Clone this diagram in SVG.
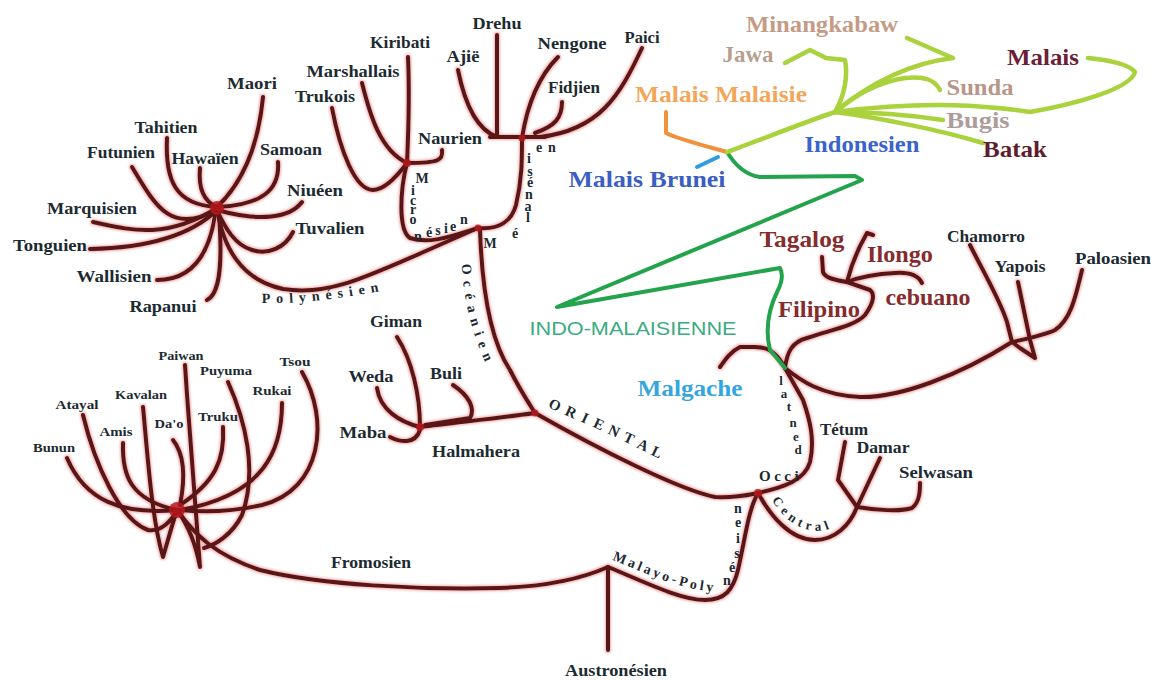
<svg xmlns="http://www.w3.org/2000/svg" width="1155" height="680" viewBox="0 0 1155 680">
<defs>
<style>
.br{fill:none;stroke:#581519;stroke-width:4;stroke-linecap:round;stroke-linejoin:round}
.lime{fill:none;stroke:#a9d23c;stroke-width:4.5;stroke-linecap:round;stroke-linejoin:round}
.dg{fill:none;stroke:#23a34b;stroke-width:4;stroke-linecap:round;stroke-linejoin:round}
.or{fill:none;stroke:#f0923c;stroke-width:4;stroke-linecap:round;stroke-linejoin:round}
.bl{fill:none;stroke:#2f9de0;stroke-width:4;stroke-linecap:round}
text{font-family:"Liberation Serif","Times New Roman",serif;font-weight:bold}
.lb{font-size:17px;fill:#1c2a31;text-anchor:middle}
.fs{font-size:13.5px;fill:#1c2a31;text-anchor:middle}
.cl{font-size:23px;text-anchor:middle}
.bt{font-size:14px;fill:#1c2a31}
.ol{font-size:15px;fill:#1c2a31;text-anchor:middle}
.mr{fill:#852c2e}
.tan{fill:#c49c86}
.hub{fill:#b5161c;opacity:.85}
</style>
<filter id="halo" x="-5%" y="-5%" width="110%" height="110%">
<feMorphology in="SourceAlpha" operator="dilate" radius="1.3" result="d"/>
<feFlood flood-color="#e05a5a" flood-opacity="0.5"/>
<feComposite in2="d" operator="in" result="h"/>
<feGaussianBlur in="h" stdDeviation="0.8" result="hb"/>
<feMerge><feMergeNode in="hb"/><feMergeNode in="SourceGraphic"/></feMerge>
</filter>
<path id="pPoly" d="M262,303 C300,304 345,298 392,289"/>
<path id="pOcea" d="M462,264 C463,300 472,337 492,376"/>
<path id="pCent" d="M772,500 C785,522 805,534 825,530 C835,528 841,522 846,514"/>
<path id="pMaPo" d="M612,560 C640,570 680,592 724,592"/>
</defs>
<rect width="1155" height="680" fill="#ffffff"/>

<g id="connectors">
<g id="maroon" filter="url(#halo)">
<!-- Polynesian -->
<path class="br" d="M263,97 C258,150 240,185 217,207"/>
<path class="br" d="M167,138 C165,180 175,205 217,207"/>
<path class="br" d="M132,167 C155,205 170,235 217,210"/>
<path class="br" d="M200,168 C198,190 205,202 217,207"/>
<path class="br" d="M278,162 C280,190 262,205 217,207"/>
<path class="br" d="M302,202 C290,218 260,222 217,210"/>
<path class="br" d="M293,232 C285,248 268,255 252,250 C235,245 225,228 217,210"/>
<path class="br" d="M93,222 C130,230 165,240 217,208"/>
<path class="br" d="M90,249 C140,248 188,238 217,210"/>
<path class="br" d="M157,280 C187,280 208,262 215,215"/>
<path class="br" d="M207,300 C219,294 223,268 219,215"/>
<path class="br" d="M217,207 C222,245 240,280 283,289 C333,297 370,275 478,228"/>
<!-- Micronesian -->
<path class="br" d="M408,57 C410,100 408,140 407,163"/>
<path class="br" d="M362,83 C370,115 380,150 407,163"/>
<path class="br" d="M332,108 C340,150 355,190 373,190 C385,190 398,175 407,163"/>
<path class="br" d="M442,150 C443,160 440,163 407,163"/>
<path class="br" d="M407,163 C400,190 398,230 410,238 C430,245 455,235 478,228"/>
<!-- Melanesian -->
<path class="br" d="M458,70 C465,105 478,130 497,137"/>
<path class="br" d="M497,35 L497,137"/>
<path class="br" d="M490,137 L545,137"/>
<path class="br" d="M558,57 C540,75 528,100 522,138"/>
<path class="br" d="M562,102 C562,118 555,126 535,133"/>
<path class="br" d="M642,48 C620,95 600,130 540,137"/>
<path class="br" d="M478,228 C500,230 512,220 516,205 C522,180 522,160 522,138"/>
<!-- Oceanic -->
<path class="br" d="M480,230 C482,290 490,340 510,370 C520,390 530,405 535,413"/>
<!-- Halmahera -->
<path class="br" d="M535,413 C500,418 460,422 420,427"/>
<path class="br" d="M453,385 C468,395 476,408 470,418 L425,425"/>
<path class="br" d="M397,337 C412,360 420,395 420,427"/>
<path class="br" d="M377,388 C380,410 400,422 420,427"/>
<path class="br" d="M390,437 C400,442 415,445 420,430"/>
<!-- Oriental -->
<path class="br" d="M535,413 C600,450 680,490 715,497 C735,498 748,495 758,493"/>
<!-- Formosan -->
<path class="br" d="M67,458 C85,500 120,515 177,510"/>
<path class="br" d="M83,415 C95,465 120,520 148,530 C162,532 172,520 177,510"/>
<path class="br" d="M123,443 C122,475 130,500 177,510"/>
<path class="br" d="M143,407 C148,460 152,520 163,557 C168,540 172,525 177,510"/>
<path class="br" d="M173,440 C185,455 185,480 180,505"/>
<path class="br" d="M185,365 C190,440 196,520 200,567 C196,545 188,525 177,510"/>
<path class="br" d="M223,427 C225,460 215,482 180,505"/>
<path class="br" d="M228,382 C245,420 258,470 242,515 C232,535 215,545 204,548"/>
<path class="br" d="M282,403 C282,450 265,495 180,510"/>
<path class="br" d="M302,372 C330,420 322,490 262,505 C230,512 200,512 180,510"/>
<path class="br" d="M177,510 C195,535 215,555 260,570 C320,585 420,590 500,588 C560,586 590,575 608,567"/>
<!-- Root and Malayo-Polynesian -->
<path class="br" d="M608,650 L608,567"/>
<path class="br" d="M608,567 C640,580 680,600 705,600 C725,600 733,590 738,570 C745,540 748,510 758,493"/>
<!-- Occidental -->
<path class="br" d="M758,493 C785,487 805,480 810,462 C815,440 810,420 803,400 L785,368"/>
<!-- Central -->
<path class="br" d="M758,493 C770,515 790,540 815,540 C835,540 850,525 857,507"/>
<path class="br" d="M857,507 L838,480 L845,442"/>
<path class="br" d="M857,507 L880,458"/>
<path class="br" d="M857,507 C875,510 900,512 912,508 C920,502 920,490 920,483"/>
<!-- Malgache / Philippines / Chamorro -->
<path class="br" d="M785,368 C778,355 770,347 755,347 L740,347 C730,352 725,360 720,367"/>
<path class="br" d="M785,368 C787,352 792,342 807,338 C830,330 855,326 865,315 C872,305 876,295 870,290 L847,282"/>
<path class="br" d="M822,257 L823,272 C825,278 835,280 847,282"/>
<path class="br" d="M873,235 L867,233 C860,245 852,262 847,282"/>
<path class="br" d="M922,283 C918,275 910,272 895,273 C875,274 860,277 847,282"/>
<path class="br" d="M785,368 C800,380 820,395 860,397 C900,398 960,375 1012,342"/>
<path class="br" d="M970,245 C985,275 1000,300 1007,322 L1012,342"/>
<path class="br" d="M1082,270 C1075,300 1070,320 1055,330 C1045,335 1030,338 1012,342"/>
<path class="br" d="M1018,282 L1030,340 L1035,358 L1020,348 L1012,342"/>
</g>
<g id="hubs">
<circle class="hub" cx="217" cy="208" r="7"/>
<circle class="hub" cx="407" cy="163" r="4"/>
<circle class="hub" cx="522" cy="138" r="3.5"/>
<circle class="hub" cx="478" cy="228" r="3.5"/>
<circle class="hub" cx="177" cy="510" r="8"/>
<circle class="hub" cx="420" cy="427" r="4"/>
<circle class="hub" cx="535" cy="413" r="3.5"/>
<circle class="hub" cx="758" cy="493" r="4"/>
</g>
<g id="indo-malay">
<path class="dg" d="M727,152 C735,165 745,175 760,177 L855,176 L862,180 L557,307 L780,268 C783,274 782,282 778,290 C768,310 765,330 770,350 L785,368"/>
<path class="or" d="M666,112 L666,133 C680,140 710,147 727,152"/>
<path class="bl" d="M697,167 L718,157"/>
<path class="lime" d="M727,152 C760,140 805,122 835,112"/>
<path class="lime" d="M785,63 L810,50 L826,58 L845,60 C848,75 845,95 835,112"/>
<path class="lime" d="M907,38 L953,58 C920,62 880,75 835,112"/>
<path class="lime" d="M940,90 C935,80 925,76 905,78 C880,82 855,95 835,112"/>
<path class="lime" d="M1088,58 C1110,60 1130,65 1135,72 C1130,90 1070,105 1030,112 C990,106 930,100 835,112"/>
<path class="lime" d="M943,120 C910,115 870,112 835,112"/>
<path class="lime" d="M983,143 C940,130 880,118 835,112"/>
</g>
</g>

<!-- Polynesian nodes -->
<g id="n-maori"><text class="lb" x="252" y="89" textLength="50" lengthAdjust="spacingAndGlyphs">Maori</text></g>
<g id="n-tahitien"><text class="lb" x="166" y="133" textLength="63" lengthAdjust="spacingAndGlyphs">Tahitien</text></g>
<g id="n-futunien"><text class="lb" x="121" y="158" textLength="68" lengthAdjust="spacingAndGlyphs">Futunien</text></g>
<g id="n-hawaien"><text class="lb" x="205" y="164" textLength="67" lengthAdjust="spacingAndGlyphs">Hawaïen</text></g>
<g id="n-samoan"><text class="lb" x="291" y="155" textLength="62" lengthAdjust="spacingAndGlyphs">Samoan</text></g>
<g id="n-niueen"><text class="lb" x="315" y="196" textLength="56" lengthAdjust="spacingAndGlyphs">Niuéen</text></g>
<g id="n-tuvalien"><text class="lb" x="330" y="234" textLength="69" lengthAdjust="spacingAndGlyphs">Tuvalien</text></g>
<g id="n-marquisien"><text class="lb" x="92" y="214" textLength="90" lengthAdjust="spacingAndGlyphs">Marquisien</text></g>
<g id="n-tonguien"><text class="lb" x="50" y="251" textLength="74" lengthAdjust="spacingAndGlyphs">Tonguien</text></g>
<g id="n-wallisien"><text class="lb" x="114" y="282" textLength="75" lengthAdjust="spacingAndGlyphs">Wallisien</text></g>
<g id="n-rapanui"><text class="lb" x="163" y="312" textLength="67" lengthAdjust="spacingAndGlyphs">Rapanui</text></g>
<!-- Micronesian -->
<g id="n-kiribati"><text class="lb" x="400" y="48" textLength="60" lengthAdjust="spacingAndGlyphs">Kiribati</text></g>
<g id="n-marshallais"><text class="lb" x="353" y="77" textLength="93" lengthAdjust="spacingAndGlyphs">Marshallais</text></g>
<g id="n-trukois"><text class="lb" x="325" y="102" textLength="60" lengthAdjust="spacingAndGlyphs">Trukois</text></g>
<g id="n-naurien"><text class="lb" x="450" y="144" textLength="64" lengthAdjust="spacingAndGlyphs">Naurien</text></g>
<!-- Melanesian -->
<g id="n-ajie"><text class="lb" x="463" y="62" textLength="33" lengthAdjust="spacingAndGlyphs">Ajië</text></g>
<g id="n-drehu"><text class="lb" x="497" y="29" textLength="49" lengthAdjust="spacingAndGlyphs">Drehu</text></g>
<g id="n-nengone"><text class="lb" x="572" y="49" textLength="69" lengthAdjust="spacingAndGlyphs">Nengone</text></g>
<g id="n-fidjien"><text class="lb" x="574" y="93" textLength="52" lengthAdjust="spacingAndGlyphs">Fidjien</text></g>
<g id="n-paici"><text class="lb" x="642" y="43" textLength="35" lengthAdjust="spacingAndGlyphs">Paici</text></g>
<!-- Halmahera -->
<g id="n-giman"><text class="lb" x="396" y="327" textLength="52" lengthAdjust="spacingAndGlyphs">Giman</text></g>
<g id="n-weda"><text class="lb" x="371" y="382" textLength="45" lengthAdjust="spacingAndGlyphs">Weda</text></g>
<g id="n-buli"><text class="lb" x="446" y="379" textLength="32" lengthAdjust="spacingAndGlyphs">Buli</text></g>
<g id="n-maba"><text class="lb" x="363" y="438" textLength="47" lengthAdjust="spacingAndGlyphs">Maba</text></g>
<g id="n-halmahera"><text class="lb" x="476" y="457" textLength="88" lengthAdjust="spacingAndGlyphs">Halmahera</text></g>
<!-- Formosan -->
<g id="n-paiwan"><text class="fs" x="181" y="360" textLength="45" lengthAdjust="spacingAndGlyphs">Paiwan</text></g>
<g id="n-puyuma"><text class="fs" x="226" y="375" textLength="52" lengthAdjust="spacingAndGlyphs">Puyuma</text></g>
<g id="n-tsou"><text class="fs" x="295" y="366" textLength="31" lengthAdjust="spacingAndGlyphs">Tsou</text></g>
<g id="n-rukai"><text class="fs" x="272" y="395" textLength="39" lengthAdjust="spacingAndGlyphs">Rukai</text></g>
<g id="n-kavalan"><text class="fs" x="141" y="399" textLength="52" lengthAdjust="spacingAndGlyphs">Kavalan</text></g>
<g id="n-atayal"><text class="fs" x="77" y="409" textLength="43" lengthAdjust="spacingAndGlyphs">Atayal</text></g>
<g id="n-truku"><text class="fs" x="218" y="421" textLength="40" lengthAdjust="spacingAndGlyphs">Truku</text></g>
<g id="n-dao"><text class="fs" x="169" y="428" textLength="29" lengthAdjust="spacingAndGlyphs">Da'o</text></g>
<g id="n-amis"><text class="fs" x="116" y="436" textLength="33" lengthAdjust="spacingAndGlyphs">Amis</text></g>
<g id="n-bunun"><text class="fs" x="54" y="452" textLength="42" lengthAdjust="spacingAndGlyphs">Bunun</text></g>
<g id="n-fromosien"><text class="lb" x="371" y="568" textLength="80" lengthAdjust="spacingAndGlyphs">Fromosien</text></g>
<g id="n-austronesien"><text class="lb" x="616" y="676" textLength="102" lengthAdjust="spacingAndGlyphs">Austronésien</text></g>
<!-- Central -->
<g id="n-tetum"><text class="lb" x="844" y="435" textLength="48" lengthAdjust="spacingAndGlyphs">Tétum</text></g>
<g id="n-damar"><text class="lb" x="883" y="453" textLength="53" lengthAdjust="spacingAndGlyphs">Damar</text></g>
<g id="n-selwasan"><text class="lb" x="936" y="478" textLength="74" lengthAdjust="spacingAndGlyphs">Selwasan</text></g>
<!-- Chamorro group -->
<g id="n-chamorro"><text class="lb" x="986" y="242" textLength="78" lengthAdjust="spacingAndGlyphs">Chamorro</text></g>
<g id="n-yapois"><text class="lb" x="1020" y="272" textLength="51" lengthAdjust="spacingAndGlyphs">Yapois</text></g>
<g id="n-paloasien"><text class="lb" x="1113" y="264" textLength="76" lengthAdjust="spacingAndGlyphs">Paloasien</text></g>
<!-- Philippines -->
<g id="n-tagalog"><text class="cl mr" x="802" y="247" textLength="85" lengthAdjust="spacingAndGlyphs">Tagalog</text></g>
<g id="n-ilongo"><text class="cl mr" x="900" y="262" textLength="66" lengthAdjust="spacingAndGlyphs">Ilongo</text></g>
<g id="n-cebuano"><text class="cl mr" x="928" y="305" textLength="85" lengthAdjust="spacingAndGlyphs">cebuano</text></g>
<g id="n-filipino"><text class="cl mr" x="819" y="317" textLength="82" lengthAdjust="spacingAndGlyphs">Filipino</text></g>
<!-- Indo-Malay -->
<g id="n-minangkabaw"><text class="cl tan" x="822" y="32" textLength="152" lengthAdjust="spacingAndGlyphs">Minangkabaw</text></g>
<g id="n-jawa"><text class="cl" fill="#b5a08e" x="748" y="62" textLength="51" lengthAdjust="spacingAndGlyphs">Jawa</text></g>
<g id="n-malais"><text class="cl" fill="#6c2036" x="1043" y="65" textLength="72" lengthAdjust="spacingAndGlyphs">Malais</text></g>
<g id="n-sunda"><text class="cl" fill="#b8968a" x="980" y="95" textLength="67" lengthAdjust="spacingAndGlyphs">Sunda</text></g>
<g id="n-bugis"><text class="cl" fill="#ae9c9c" x="978" y="128" textLength="63" lengthAdjust="spacingAndGlyphs">Bugis</text></g>
<g id="n-batak"><text class="cl" fill="#5e1c2c" x="1015" y="157" textLength="64" lengthAdjust="spacingAndGlyphs">Batak</text></g>
<g id="n-indonesien"><text class="cl" fill="#3a64cc" x="862" y="152" textLength="115" lengthAdjust="spacingAndGlyphs">Indonesien</text></g>
<g id="n-malais-malaisie"><text class="cl" fill="#f2a65a" x="721" y="102" textLength="172" lengthAdjust="spacingAndGlyphs">Malais Malaisie</text></g>
<g id="n-malais-brunei"><text class="cl" fill="#3a5ec2" x="647" y="187" textLength="157" lengthAdjust="spacingAndGlyphs">Malais Brunei</text></g>
<g id="n-malgache"><text class="cl" fill="#35a6de" x="690" y="396" textLength="105" lengthAdjust="spacingAndGlyphs">Malgache</text></g>
<g id="n-indo-malaisienne"><text x="633" y="335" fill="#3aab82" style="font-family:'Liberation Sans',Arial,sans-serif;font-weight:normal;font-size:18px;text-anchor:middle" textLength="207" lengthAdjust="spacingAndGlyphs">INDO-MALAISIENNE</text></g>

<!-- Branch labels -->
<g id="b-polynesien"><text class="bt" letter-spacing="6"><textPath href="#pPoly">Polynésien</textPath></text></g>
<g id="b-micronesien"><text class="bt" x="422 413 413 413 413 418 429 438 446 453 464" y="183 195 205 214 224 241 237 235 233 231 224" style="text-anchor:middle">Micronésien</text></g>
<g id="b-melanesien"><text class="bt" x="490 515 528 528 529 530 530 529 539 552" y="248 238 222 211 199 187 176 163 152 152" style="text-anchor:middle">Mélanésien</text></g>
<g id="b-oceanien"><text class="bt" letter-spacing="6.5"><textPath href="#pOcea">Océanien</textPath></text></g>
<g id="b-oriental">
<text class="ol" transform="translate(555,405) rotate(25)" y="5">O</text>
<text class="ol" transform="translate(571,412) rotate(25)" y="5">R</text>
<text class="ol" transform="translate(585,418) rotate(25)" y="5">I</text>
<text class="ol" transform="translate(599,424) rotate(25)" y="5">E</text>
<text class="ol" transform="translate(614,431) rotate(25)" y="5">N</text>
<text class="ol" transform="translate(629,438) rotate(25)" y="5">T</text>
<text class="ol" transform="translate(643,445) rotate(25)" y="5">A</text>
<text class="ol" transform="translate(657,452) rotate(25)" y="5">L</text>
</g>
<g id="b-occidental"><text class="bt" x="759" y="481" letter-spacing="3.5" style="font-size:15px">Occi</text><text class="bt" x="798 796 793 789 784 781" y="454 441 427 411 398 385" style="font-size:13px;text-anchor:middle">dental</text></g>
<g id="b-central"><text class="bt" style="font-size:13px" letter-spacing="4.5"><textPath href="#pCent">Central</textPath></text></g>
<g id="b-malayo-polynesien"><text class="bt" letter-spacing="3"><textPath href="#pMaPo">Malayo-Poly</textPath></text><text class="bt" x="727 732 737 738 738 738" y="585 572 558 543 527 513" style="text-anchor:middle">nésien</text></g>
</svg>
